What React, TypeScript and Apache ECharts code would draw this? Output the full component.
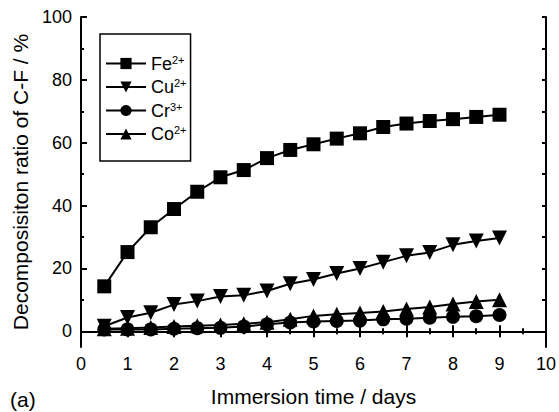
import React, { useEffect, useRef } from "react";
import * as echarts from "echarts";

const days = [0.5, 1, 1.5, 2, 2.5, 3, 3.5, 4, 4.5, 5, 5.5, 6, 6.5, 7, 7.5, 8, 8.5, 9];
const fe = [14.3, 25.2, 33.1, 38.9, 44.4, 49, 51.3, 55.1, 57.7, 59.5, 61.3, 63, 65, 66.1, 66.9, 67.5, 68.2, 68.9];
const cu = [1.6, 4.4, 5.9, 8.5, 9.6, 11.1, 11.5, 12.8, 15.1, 16.5, 18.4, 20, 22, 24, 25.1, 27.5, 28.7, 29.7];
const cr = [0.6, 0.6, 0.6, 0.8, 1.0, 1.1, 1.5, 2.2, 2.8, 3.1, 3.3, 3.4, 3.8, 4.0, 4.3, 4.6, 4.8, 5.2];
const co = [0.8, 1.0, 1.2, 1.5, 1.8, 2.0, 2.4, 2.9, 3.8, 4.9, 5.4, 5.8, 6.3, 7.1, 7.7, 8.7, 9.5, 10];
const yMajor = [0, 20, 40, 60, 80, 100];
const yMinor = [10, 30, 50, 70, 90];
const yRight = [0, 10, 20, 30, 40, 50, 60, 70, 80, 90, 100];
const ionBase: Record<string, string> = { Fe: "Fe", Cu: "Cu", Cr: "Cr", Co: "Co" };
const ionCharge: Record<string, string> = { Fe: "2+", Cu: "2+", Cr: "3+", Co: "2+" };

const FONT = "Liberation Sans, Arial, sans-serif";

export default function App() {
  const ref = useRef<HTMLDivElement>(null);
  useEffect(() => {
    if (!ref.current) return;
    const chart = echarts.init(ref.current, null, { renderer: "svg" });
    const pair = (arr: number[]) => days.map((d, i) => [d, arr[i]]);
    const mk = (name: string, arr: number[], symbol: string, size: number, rot = 0) => ({
      name,
      type: "line",
      data: pair(arr),
      symbol,
      symbolSize: size,
      symbolRotate: rot,
      color: "#000",
      lineStyle: { color: "#000", width: 2 },
      itemStyle: { color: "#000" },
      xAxisIndex: 0,
      yAxisIndex: 0,
    });
    const ax = { color: "#000", width: 2 };
    chart.setOption({
      animation: false,
      textStyle: { fontFamily: FONT },
      grid: { left: 81, right: 10, top: 17, bottom: 53 },
      legend: {
        left: 100,
        top: 34,
        orient: "vertical",
        itemWidth: 40,
        itemHeight: 14,
        itemGap: 5,
        padding: [20, 4, 18, 5],
        borderColor: "#000",
        borderWidth: 1.5,
        data: ["Fe", "Cu", "Cr", "Co"],
        formatter: (n: string) => `{b|${ionBase[n]}}{s|${ionCharge[n]}}`,
        textStyle: {
          fontFamily: FONT,
          color: "#000",
          rich: {
            b: { fontSize: 18, fontFamily: FONT, color: "#000" },
            s: { fontSize: 11, fontFamily: FONT, color: "#000", verticalAlign: "top", padding: [0, 0, 8, 0] },
          },
        },
      },
      xAxis: [
        {
          type: "value",
          min: 0,
          max: 10,
          interval: 1,
          name: "Immersion time / days",
          nameLocation: "middle",
          nameGap: 39,
          nameTextStyle: { fontSize: 21, color: "#000", fontFamily: FONT },
          axisLine: { lineStyle: ax },
          axisTick: { inside: true, length: 6, lineStyle: ax },
          minorTick: { show: true, splitNumber: 2, length: 3, lineStyle: ax },
          axisLabel: { fontSize: 18, color: "#000", margin: 8, fontFamily: FONT },
          splitLine: { show: false },
        },
        {
          type: "value",
          position: "top",
          min: 0,
          max: 10,
          interval: 1,
          axisLine: { lineStyle: ax },
          axisTick: { inside: true, length: 6, lineStyle: ax },
          minorTick: { show: true, splitNumber: 2, length: 3, lineStyle: ax },
          axisLabel: { show: false },
          splitLine: { show: false },
        },
      ],
      yAxis: [
        {
          type: "value",
          min: -5,
          max: 100,
          name: "Decomposisiton ratio of C-F / %",
          nameLocation: "middle",
          nameGap: 50,
          nameTextStyle: { fontSize: 21, color: "#000", fontFamily: FONT },
          axisLine: { lineStyle: ax },
          axisTick: { inside: true, length: 6, customValues: yMajor, lineStyle: ax },
          axisLabel: { customValues: yMajor, fontSize: 18, color: "#000", margin: 9, fontFamily: FONT },
          splitLine: { show: false },
        },
        {
          type: "value",
          position: "left",
          min: -5,
          max: 100,
          axisLine: { show: false },
          axisTick: { inside: true, length: 3, customValues: yMinor, lineStyle: ax },
          axisLabel: { show: false },
          splitLine: { show: false },
        },
        {
          type: "value",
          position: "right",
          min: -5,
          max: 100,
          axisLine: { show: true, lineStyle: ax },
          axisTick: { show: true, inside: true, length: 4, customValues: yRight, lineStyle: ax },
          axisLabel: { show: false },
          splitLine: { show: false },
        },
      ],
      graphic: [
        {
          type: "text",
          left: 10,
          top: 389,
          style: { text: "(a)", fontSize: 21, fill: "#000", fontFamily: FONT },
        },
      ],
      series: [
        mk("Fe", fe, "rect", 14),
        mk("Cu", cu, "triangle", 15, 180),
        mk("Cr", cr, "circle", 14),
        mk("Co", co, "triangle", 15),
      ],
    });
    return () => chart.dispose();
  }, []);
  return <div ref={ref} style={{ width: 559, height: 412, position: "absolute", left: 0, top: 0 }} />;
}
